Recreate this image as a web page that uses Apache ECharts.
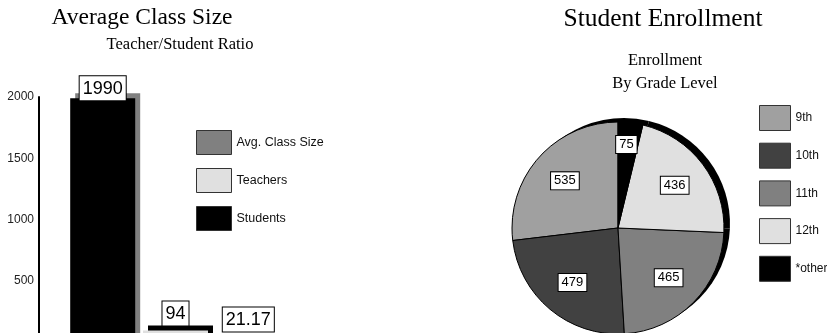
<!DOCTYPE html>
<html>
<head>
<meta charset="utf-8">
<script src="https://cdn.jsdelivr.net/npm/echarts@6/dist/echarts.min.js"></script>
<style>
  html, body { margin: 0; padding: 0; background: #fff; }
  #chart { width: 827px; height: 333px; }
</style>
</head>
<body>
<div id="chart"></div>
<script>
// Bar chart: one school group, three measures
const barCategories = ['School'];
const studentsData = [1990];
const teachersData = [94];
const classSizeData = [21.17];
const yTicks = { min: 0, max: 2000, interval: 500 };

// Pie chart: enrollment by grade level
const gradeNames = ['9th', '10th', '11th', '12th', '*other'];
const gradeValues = [535, 479, 465, 436, 75];
const gradeColors = ['#a0a0a0', '#414141', '#808080', '#e0e0e0', '#000000'];

const sans = 'Arial, "Liberation Sans", Helvetica, sans-serif';
const serif = '"Times New Roman", "Liberation Serif", serif';

const pieData = gradeNames.map((n, i) => ({ name: n, value: gradeValues[i], itemStyle: { color: gradeColors[i] } }));
const pieShadowData = gradeNames.map((n, i) => ({ name: n, value: gradeValues[i] }));
// the thin "other" slice carries its label further out
const pieLabelData = gradeNames.map((n, i) => ({
  name: n, value: gradeValues[i],
  label: n === '*other' ? { offset: [0, -13] } : undefined
}));

const barLabel = (dist) => ({
  show: true, position: 'top', distance: dist,
  color: '#000', fontFamily: sans, fontSize: 18, lineHeight: 21,
  backgroundColor: '#fff', borderColor: '#000', borderWidth: 1, padding: [2, 3, 1, 3]
});

const chart = echarts.init(document.getElementById('chart'), null, { renderer: 'canvas' });
chart.setOption({
  animation: false,
  backgroundColor: '#fff',
  title: [
    { text: 'Average Class Size', left: 142, top: 6, padding: 0, textAlign: 'center',
      textStyle: { fontFamily: serif, fontSize: 23.5, fontWeight: 'normal', color: '#000' } },
    { text: 'Teacher/Student Ratio', left: 180, top: 36, padding: 0, textAlign: 'center',
      textStyle: { fontFamily: serif, fontSize: 16.5, fontWeight: 'normal', color: '#000' } },
    { text: 'Student Enrollment', left: 663, top: 6, padding: 0, textAlign: 'center',
      textStyle: { fontFamily: serif, fontSize: 25.5, fontWeight: 'normal', color: '#000' } },
    { text: 'Enrollment\nBy Grade Level', left: 665, top: 49, padding: 0, textAlign: 'center',
      textStyle: { fontFamily: serif, fontSize: 16.5, lineHeight: 23, fontWeight: 'normal', color: '#000' } }
  ],
  legend: [
    {
      data: ['Avg. Class Size', 'Teachers', 'Students'],
      orient: 'vertical', left: 196, top: 130, padding: 0,
      itemWidth: 35, itemHeight: 24, itemGap: 13,
      icon: 'rect',
      itemStyle: { borderColor: '#333', borderWidth: 1, shadowColor: 'rgba(0,0,0,0)', shadowOffsetX: 0, shadowOffsetY: 0, shadowBlur: 0 },
      textStyle: { fontFamily: sans, fontSize: 12.5, color: '#111' },
      selectedMode: false
    },
    {
      data: gradeNames,
      orient: 'vertical', left: 759, top: 105, padding: 0,
      itemWidth: 31, itemHeight: 25, itemGap: 11.7,
      icon: 'rect',
      itemStyle: { borderColor: '#333', borderWidth: 1 },
      textStyle: { fontFamily: sans, fontSize: 12, color: '#111' },
      selectedMode: false
    }
  ],
  // the value axis runs on below the visible frame, so its zero line sits under the bottom edge
  grid: { left: 39, top: 97, width: 273, height: 245, containLabel: false, outerBoundsMode: 'none' },
  xAxis: { type: 'category', data: barCategories, show: false },
  yAxis: {
    type: 'value', min: yTicks.min, max: yTicks.max, interval: yTicks.interval,
    axisLine: { show: true, lineStyle: { color: '#000', width: 2 } },
    axisTick: { show: false },
    splitLine: { show: false },
    axisLabel: { fontFamily: sans, fontSize: 12, color: '#222', margin: 5, formatter: (v) => String(v) }
  },
  series: [
    {
      name: 'Students', type: 'bar', data: studentsData,
      barWidth: 65, barGap: '12%',
      itemStyle: { color: '#000', shadowColor: '#808080', shadowOffsetX: 5, shadowOffsetY: -5, shadowBlur: 0 },
      label: barLabel(-2)
    },
    {
      name: 'Teachers', type: 'bar', data: teachersData,
      barWidth: 65, barGap: '12%',
      itemStyle: { color: '#e0e0e0', shadowColor: '#000', shadowOffsetX: 5, shadowOffsetY: -5, shadowBlur: 0 },
      label: barLabel(5)
    },
    {
      name: 'Avg. Class Size', type: 'bar', data: classSizeData,
      barWidth: 65, barGap: '12%',
      itemStyle: { color: '#808080', shadowColor: '#000', shadowOffsetX: 5, shadowOffsetY: -5, shadowBlur: 0 },
      label: barLabel(8)
    },
    {
      name: 'Enrollment', type: 'pie', z: 3,
      center: [618, 228], radius: 106,
      startAngle: 90, clockwise: false,
      data: pieData,
      itemStyle: { borderColor: '#000', borderWidth: 1 },
      label: { show: false }, labelLine: { show: false },
      emphasis: { disabled: true }
    },
    {
      name: 'EnrollmentShadow', type: 'pie', z: 1, silent: true,
      center: [624, 224], radius: 106,
      startAngle: 90, clockwise: false,
      data: pieShadowData,
      itemStyle: { color: '#000', borderWidth: 0 },
      label: { show: false }, labelLine: { show: false },
      emphasis: { disabled: true }
    },
    {
      name: 'EnrollmentLabels', type: 'pie', z: 4, silent: true,
      center: [618, 228], radius: 136,
      startAngle: 90, clockwise: false,
      data: pieLabelData,
      itemStyle: { color: 'rgba(0,0,0,0)', borderWidth: 0 },
      label: {
        show: true, position: 'inside', formatter: '{c}',
        color: '#000', fontFamily: sans, fontSize: 13, lineHeight: 14,
        backgroundColor: '#fff', borderColor: '#000', borderWidth: 1, padding: [2, 3, 1, 3]
      },
      labelLine: { show: false },
      emphasis: { disabled: true }
    }
  ]
});
</script>
</body>
</html>
